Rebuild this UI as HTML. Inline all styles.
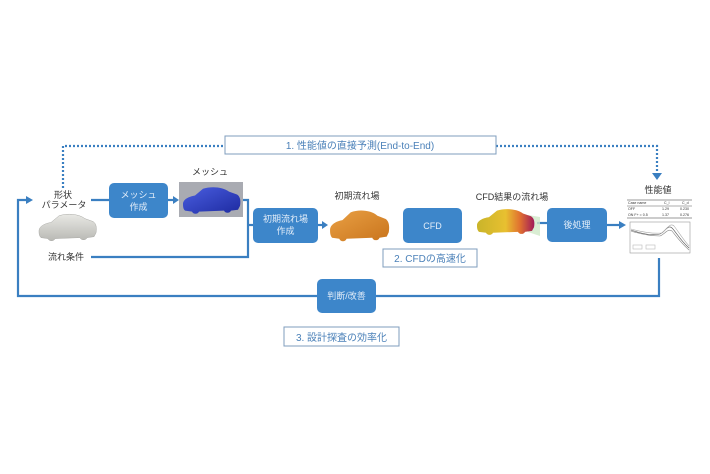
<!DOCTYPE html>
<html><head><meta charset="utf-8">
<style>
html,body{margin:0;padding:0;background:#fff;}
svg{display:block;}
text{font-family:"Liberation Sans","Noto Sans CJK JP",sans-serif;}
</style></head>
<body>
<svg width="710" height="474" viewBox="0 0 710 474" xmlns="http://www.w3.org/2000/svg">
<defs>
<linearGradient id="gGray" x1="0" y1="0" x2="0" y2="1"><stop offset="0" stop-color="#e8e8e4"/><stop offset="1" stop-color="#b9b9b4"/></linearGradient>
<linearGradient id="gOr" x1="0" y1="0" x2="1" y2="1"><stop offset="0" stop-color="#e9a044"/><stop offset="1" stop-color="#c9741c"/></linearGradient>
<linearGradient id="gCfd" x1="0" y1="0" x2="1" y2="0"><stop offset="0" stop-color="#c9b42a"/><stop offset="0.5" stop-color="#e8c030"/><stop offset="0.75" stop-color="#e07030"/><stop offset="1" stop-color="#a01a5a"/></linearGradient>
<linearGradient id="gBlue" x1="0" y1="0" x2="1" y2="1"><stop offset="0" stop-color="#4a5ee0"/><stop offset="1" stop-color="#1d2aa0"/></linearGradient>
<path id="car" d="M2,20 C2,15 8,12 14,11 L22,4 C30,1 42,2 48,7 L56,10 C59,12 60,16 59,22 L57,26 L50,27 C49,30 44,30 43,27 L18,28 C17,31 12,31 11,28 L4,27 C2,25 2,22 2,20 Z"/>
</defs>

<!-- dotted path 1 -->
<g stroke="#3a7fc1" stroke-width="2.2" stroke-dasharray="2 2" fill="none">
<polyline points="63,188 63,146 225,146"/>
<polyline points="496,146 657,146 657,174"/>
</g>
<polygon points="652,173 662,173 657,180" fill="#3a7fc1"/>
<rect x="225" y="136" width="271" height="18" fill="#fff" stroke="#7f9dbd" stroke-width="1"/>
<text x="360" y="149" font-size="10" fill="#4a80b8" text-anchor="middle">1. 性能値の直接予測(End-to-End)</text>

<!-- solid connectors -->
<g stroke="#3a7fc1" stroke-width="2.2" fill="none">
<line x1="91" y1="200" x2="109" y2="200"/>
<line x1="168" y1="200" x2="174" y2="200"/>
<polyline points="243,200 248,200 248,257 91,257"/>
<line x1="248" y1="225" x2="253" y2="225"/>
<line x1="318" y1="225" x2="323" y2="225"/>
<line x1="537" y1="223" x2="547" y2="223"/>
<line x1="607" y1="225" x2="620" y2="225"/>
<polyline points="659,258 659,296 18,296 18,200 27,200"/>
</g>
<polygon points="173,196 179,200 173,204" fill="#3a7fc1"/>
<polygon points="322,221 328,225 322,229" fill="#3a7fc1"/>
<polygon points="619,221 626,225 619,229" fill="#3a7fc1"/>
<polygon points="26,196 33,200 26,204" fill="#3a7fc1"/>

<!-- process boxes -->
<g fill="#3d86ca">
<rect x="109" y="183" width="59" height="35" rx="5"/>
<rect x="253" y="208" width="65" height="35" rx="5"/>
<rect x="403" y="208" width="59" height="35" rx="5"/>
<rect x="547" y="208" width="60" height="34" rx="5"/>
<rect x="317" y="279" width="59" height="34" rx="5"/>
</g>
<g font-size="9" fill="#e4eef9" text-anchor="middle">
<text x="138.5" y="198">メッシュ</text>
<text x="138.5" y="210">作成</text>
<text x="285.5" y="222">初期流れ場</text>
<text x="285.5" y="234">作成</text>
<text x="432.5" y="229">CFD</text>
<text x="577" y="228">後処理</text>
<text x="346.5" y="299">判断/改善</text>
</g>

<!-- label boxes -->
<rect x="383" y="249" width="94" height="18" fill="#fff" stroke="#7f9dbd" stroke-width="1"/>
<text x="430" y="262" font-size="10" fill="#4a80b8" text-anchor="middle">2. CFDの高速化</text>
<rect x="284" y="327" width="115" height="19" fill="#fff" stroke="#7f9dbd" stroke-width="1"/>
<text x="341.5" y="341" font-size="10" fill="#4a80b8" text-anchor="middle">3. 設計探査の効率化</text>

<!-- labels -->
<g font-size="9" fill="#333" text-anchor="middle">
<text x="63" y="198">形状</text>
<text x="64" y="208">パラメータ</text>
<text x="66" y="260">流れ条件</text>
<text x="210" y="175">メッシュ</text>
<text x="357" y="199">初期流れ場</text>
<text x="512" y="200">CFD結果の流れ場</text>
<text x="658" y="193">性能値</text>
</g>

<!-- gray car -->
<g transform="translate(37,212) scale(1,0.95)"><use href="#car" fill="url(#gGray)" stroke="#a8a8a4" stroke-width="0.5"/></g>

<!-- mesh image -->
<rect x="179" y="182" width="64" height="35" fill="#a9abb2"/>
<g transform="translate(181,185) scale(1,0.95)"><use href="#car" fill="url(#gBlue)"/></g>

<!-- orange car -->
<g transform="translate(328,208) scale(1.03,1.1)"><use href="#car" fill="url(#gOr)"/></g>

<!-- cfd result car -->
<polygon points="528,215 540,217 540,236 528,232" fill="#cfe8c8" opacity="0.8"/>
<g transform="translate(475,207) scale(1,0.92)"><use href="#car" fill="url(#gCfd)"/></g>

<!-- performance table -->
<g font-family="Liberation Serif" font-size="3.6" fill="#333">
<line x1="627" y1="200" x2="692" y2="200" stroke="#333" stroke-width="0.6"/>
<text x="628" y="204">Case name</text><text x="664" y="204">C_l</text><text x="682" y="204">C_d</text>
<line x1="627" y1="206" x2="692" y2="206" stroke="#333" stroke-width="0.4"/>
<text x="628" y="210">OFF</text><text x="662" y="210">1.29</text><text x="680" y="210">0.230</text>
<text x="628" y="216">ON F+ = 0.5</text><text x="662" y="216">1.37</text><text x="680" y="216">0.276</text>
<line x1="627" y1="218" x2="692" y2="218" stroke="#333" stroke-width="0.5"/>
</g>
<g fill="none" stroke-width="0.6">
<rect x="630" y="222" width="60" height="31" stroke="#999"/>
<path d="M631,230 C640,233 650,236 660,234 C665,232 668,224 672,228 C676,232 680,240 689,248" stroke="#555"/>
<path d="M631,231 C640,234 650,236 660,236 C665,234 668,228 672,231 C676,236 680,242 689,250" stroke="#888"/>
<path d="M631,229 C642,232 652,234 662,233 C666,230 670,222 674,226 C678,231 682,238 689,246" stroke="#aaa"/>
<rect x="633" y="245" width="9" height="4" stroke="#bbb"/>
<rect x="646" y="245" width="9" height="4" stroke="#bbb"/>
</g>
</svg>
</body></html>
